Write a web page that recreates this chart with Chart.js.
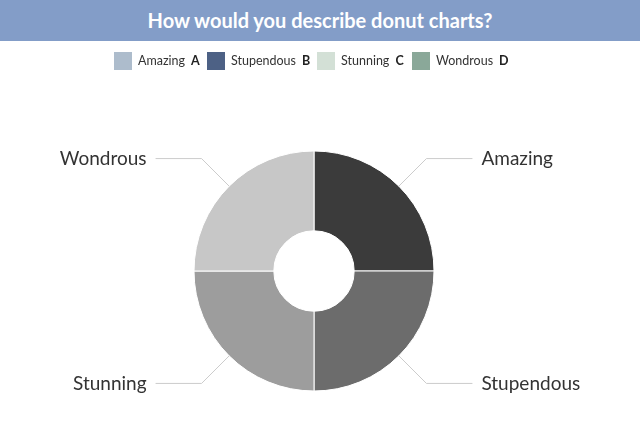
<!DOCTYPE html>
<html>
<head>
<meta charset="utf-8">
<script src="https://cdn.jsdelivr.net/npm/chart.js@4.4.0/dist/chart.umd.min.js"></script>
<style>
  html, body { margin: 0; padding: 0; background: #fff; }
  body { width: 640px; height: 446px; position: relative; overflow: hidden; font-family: Lato, "Noto Sans", sans-serif; }
  #banner { position: absolute; left: 0; top: 0; width: 640px; height: 41px; background: #839dc8;
            color: #fff; font-weight: bold; font-size: 20px; line-height: 41px; text-align: center; }
  #legend { position: absolute; left: 0; top: 52px; width: 640px; height: 18px; }
  .item { position: absolute; top: 0; height: 18px; font-size: 12.5px; line-height: 18px; color: #333; white-space: nowrap; }
  .item .box { display: inline-block; width: 18px; height: 18px; vertical-align: top; margin-right: 6px; }
  .item b { margin-left: 6px; color: #222; }
  #wrap { position: absolute; left: 0; top: 0; width: 640px; height: 446px; }
</style>
</head>
<body>
<div id="wrap"><canvas id="donut"></canvas></div>
<div id="banner">How would you describe donut charts?</div>
<div id="legend"></div>
<script>
const title = 'How would you describe donut charts?';
const categories = ['Amazing', 'Stupendous', 'Stunning', 'Wondrous'];
const letters = ['A', 'B', 'C', 'D'];
const values = [25, 25, 25, 25];
const sliceColors = ['#3b3b3b', '#6c6c6c', '#9d9d9d', '#c7c7c7'];
const legendColors = ['#adbccc', '#4d6185', '#d3e0d6', '#8aa899'];

// legend left positions (px)
const legendX = [114, 207, 317, 412];

const legendDiv = document.getElementById('legend');
categories.forEach((cat, i) => {
    const item = document.createElement('div');
    item.className = 'item';
    item.style.left = legendX[i] + 'px';
    item.innerHTML = `<span class="box" style="background:${legendColors[i]}"></span>${cat}<b>${letters[i]}</b>`;
    legendDiv.appendChild(item);
});

// labels with leader lines
const leaderLabels = {
    id: 'leaderLabels',
    afterDatasetsDraw(chart) {
        const ctx = chart.ctx;
        const meta = chart.getDatasetMeta(0);
        ctx.save();
        ctx.strokeStyle = '#cccccc';
        ctx.lineWidth = 1;
        ctx.fillStyle = '#333333';
        ctx.font = '19px Lato, "Noto Sans", sans-serif';
        ctx.textBaseline = 'middle';
        meta.data.forEach((arc, i) => {
            const { x, y, startAngle, endAngle, outerRadius } = arc.getProps(['x', 'y', 'startAngle', 'endAngle', 'outerRadius'], true);
            const mid = (startAngle + endAngle) / 2;
            const cx = Math.cos(mid), cy = Math.sin(mid);
            const x0 = x + cx * outerRadius, y0 = y + cy * outerRadius;
            const x1 = x + cx * (outerRadius + 39), y1 = y + cy * (outerRadius + 39);
            const dir = cx >= 0 ? 1 : -1;
            const x2 = x1 + dir * 46;
            ctx.beginPath();
            ctx.moveTo(x0, y0);
            ctx.lineTo(x1, y1);
            ctx.lineTo(x2, y1);
            ctx.stroke();
            ctx.textAlign = dir > 0 ? 'left' : 'right';
            ctx.fillText(categories[i], x2 + dir * 9, y1);
        });
        ctx.restore();
    }
};

new Chart(document.getElementById('donut'), {
    type: 'doughnut',
    data: {
        labels: categories,
        datasets: [{
            data: values,
            backgroundColor: sliceColors,
            borderColor: '#ffffff',
            borderWidth: 1
        }]
    },
    options: {
        responsive: true,
        maintainAspectRatio: false,
        animation: false,
        radius: 120,
        cutout: 40,
        layout: { padding: { top: 151, bottom: 55, left: 100, right: 112 } },
        plugins: {
            legend: { display: false },
            tooltip: { enabled: false },
            title: { display: false }
        }
    },
    plugins: [leaderLabels]
});
</script>
</body>
</html>
